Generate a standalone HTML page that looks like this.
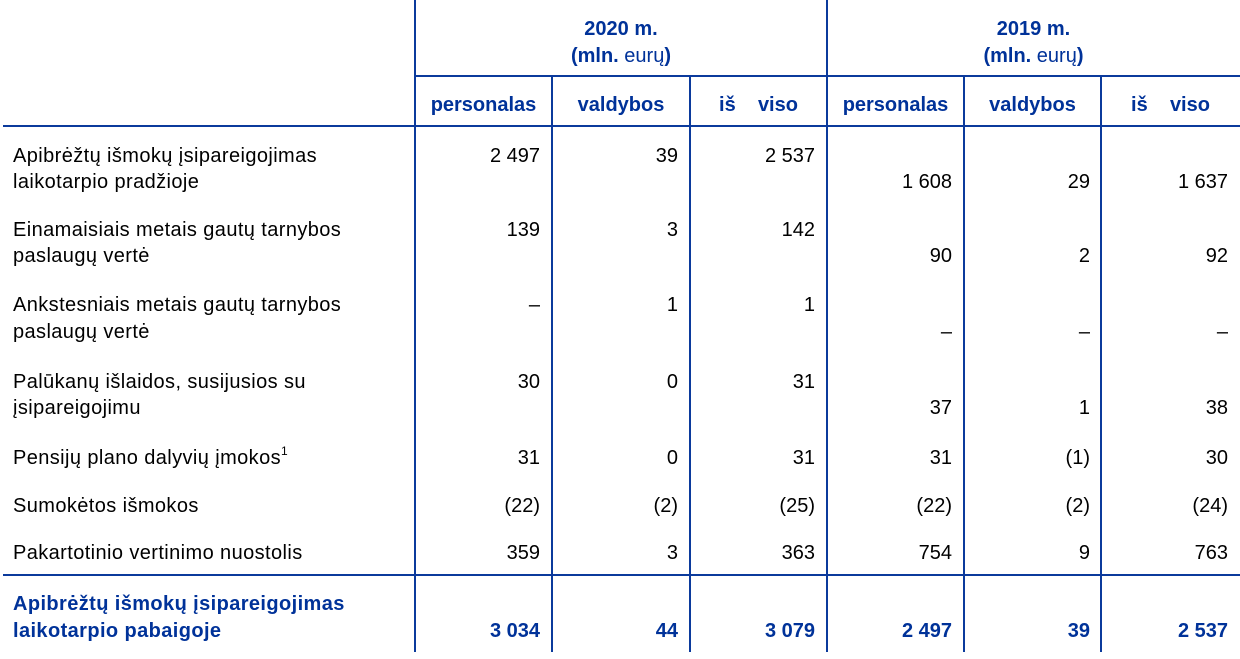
<!DOCTYPE html>
<html>
<head>
<meta charset="utf-8">
<style>
html,body{margin:0;padding:0;background:#fff;}
#c{position:relative;width:1240px;height:659px;overflow:hidden;font-family:"Liberation Sans",Arial,sans-serif;}
.t{position:absolute;font-size:20px;line-height:20px;white-space:pre;color:#000;}
.l{letter-spacing:0.4px;}
.b{font-weight:bold;color:#003299;}
.r{text-align:right;}
.v{position:absolute;background:#0b3a9c;width:2px;}
.h{position:absolute;background:#0b3a9c;height:2px;}
.c{text-align:center;}
sup{font-size:12px;line-height:0;position:relative;top:-1px;letter-spacing:0;}
</style>
</head>
<body>
<div id="c">
<!-- lines -->
<div class="v" style="left:414px;top:0;height:652px;"></div>
<div class="v" style="left:826px;top:0;height:652px;"></div>
<div class="v" style="left:551px;top:76px;height:576px;"></div>
<div class="v" style="left:689px;top:76px;height:576px;"></div>
<div class="v" style="left:963px;top:76px;height:576px;"></div>
<div class="v" style="left:1100px;top:76px;height:576px;width:1.6px;"></div>
<div class="h" style="left:415px;top:75px;width:825px;"></div>
<div class="h" style="left:3px;top:125px;width:1237px;"></div>
<div class="h" style="left:3px;top:574px;width:1237px;height:2.4px;"></div>

<!-- headers -->
<div class="t b c" style="left:415px;width:412px;top:19px;">2020 m.</div>
<div class="t b c" style="left:415px;width:412px;top:46px;">(mln.<span style="font-weight:normal"> eurų</span>)</div>
<div class="t b c" style="left:827px;width:413px;top:19px;">2019 m.</div>
<div class="t b c" style="left:827px;width:413px;top:46px;">(mln.<span style="font-weight:normal"> eurų</span>)</div>

<div class="t b c" style="left:415px;width:137px;top:95px;">personalas</div>
<div class="t b c" style="left:552px;width:138px;top:95px;">valdybos</div>
<div class="t b c" style="left:690px;width:137px;top:95px;">iš    viso</div>
<div class="t b c" style="left:827px;width:137px;top:95px;">personalas</div>
<div class="t b c" style="left:964px;width:137px;top:95px;">valdybos</div>
<div class="t b c" style="left:1101px;width:139px;top:95px;">iš    viso</div>

<!-- row 1 -->
<div class="t l" style="left:13px;top:146px;">Apibrėžtų išmokų įsipareigojimas</div>
<div class="t l" style="left:13px;top:172px;">laikotarpio pradžioje</div>
<div class="t r" style="right:700px;top:146px;">2 497</div>
<div class="t r" style="right:562px;top:146px;">39</div>
<div class="t r" style="right:425px;top:146px;">2 537</div>
<div class="t r" style="right:288px;top:172px;">1 608</div>
<div class="t r" style="right:150px;top:172px;">29</div>
<div class="t r" style="right:12px;top:172px;">1 637</div>

<!-- row 2 -->
<div class="t l" style="left:13px;top:220px;">Einamaisiais metais gautų tarnybos</div>
<div class="t l" style="left:13px;top:246px;">paslaugų vertė</div>
<div class="t r" style="right:700px;top:220px;">139</div>
<div class="t r" style="right:562px;top:220px;">3</div>
<div class="t r" style="right:425px;top:220px;">142</div>
<div class="t r" style="right:288px;top:246px;">90</div>
<div class="t r" style="right:150px;top:246px;">2</div>
<div class="t r" style="right:12px;top:246px;">92</div>

<!-- row 3 -->
<div class="t l" style="left:13px;top:295px;">Ankstesniais metais gautų tarnybos</div>
<div class="t l" style="left:13px;top:322px;">paslaugų vertė</div>
<div class="t r" style="right:700px;top:295px;">–</div>
<div class="t r" style="right:562px;top:295px;">1</div>
<div class="t r" style="right:425px;top:295px;">1</div>
<div class="t r" style="right:288px;top:322px;">–</div>
<div class="t r" style="right:150px;top:322px;">–</div>
<div class="t r" style="right:12px;top:322px;">–</div>

<!-- row 4 -->
<div class="t l" style="left:13px;top:372px;">Palūkanų išlaidos, susijusios su</div>
<div class="t l" style="left:13px;top:398px;">įsipareigojimu</div>
<div class="t r" style="right:700px;top:372px;">30</div>
<div class="t r" style="right:562px;top:372px;">0</div>
<div class="t r" style="right:425px;top:372px;">31</div>
<div class="t r" style="right:288px;top:398px;">37</div>
<div class="t r" style="right:150px;top:398px;">1</div>
<div class="t r" style="right:12px;top:398px;">38</div>

<!-- row 5 -->
<div class="t l" style="left:13px;top:448px;">Pensijų plano dalyvių įmokos<sup>1</sup></div>
<div class="t r" style="right:700px;top:448px;">31</div>
<div class="t r" style="right:562px;top:448px;">0</div>
<div class="t r" style="right:425px;top:448px;">31</div>
<div class="t r" style="right:288px;top:448px;">31</div>
<div class="t r" style="right:150px;top:448px;">(1)</div>
<div class="t r" style="right:12px;top:448px;">30</div>

<!-- row 6 -->
<div class="t l" style="left:13px;top:496px;">Sumokėtos išmokos</div>
<div class="t r" style="right:700px;top:496px;">(22)</div>
<div class="t r" style="right:562px;top:496px;">(2)</div>
<div class="t r" style="right:425px;top:496px;">(25)</div>
<div class="t r" style="right:288px;top:496px;">(22)</div>
<div class="t r" style="right:150px;top:496px;">(2)</div>
<div class="t r" style="right:12px;top:496px;">(24)</div>

<!-- row 7 -->
<div class="t l" style="left:13px;top:543px;">Pakartotinio vertinimo nuostolis</div>
<div class="t r" style="right:700px;top:543px;">359</div>
<div class="t r" style="right:562px;top:543px;">3</div>
<div class="t r" style="right:425px;top:543px;">363</div>
<div class="t r" style="right:288px;top:543px;">754</div>
<div class="t r" style="right:150px;top:543px;">9</div>
<div class="t r" style="right:12px;top:543px;">763</div>

<!-- final -->
<div class="t b l" style="left:13px;top:594px;">Apibrėžtų išmokų įsipareigojimas</div>
<div class="t b l" style="left:13px;top:621px;">laikotarpio pabaigoje</div>
<div class="t b r" style="right:700px;top:621px;">3 034</div>
<div class="t b r" style="right:562px;top:621px;">44</div>
<div class="t b r" style="right:425px;top:621px;">3 079</div>
<div class="t b r" style="right:288px;top:621px;">2 497</div>
<div class="t b r" style="right:150px;top:621px;">39</div>
<div class="t b r" style="right:12px;top:621px;">2 537</div>
</div>
</body>
</html>
